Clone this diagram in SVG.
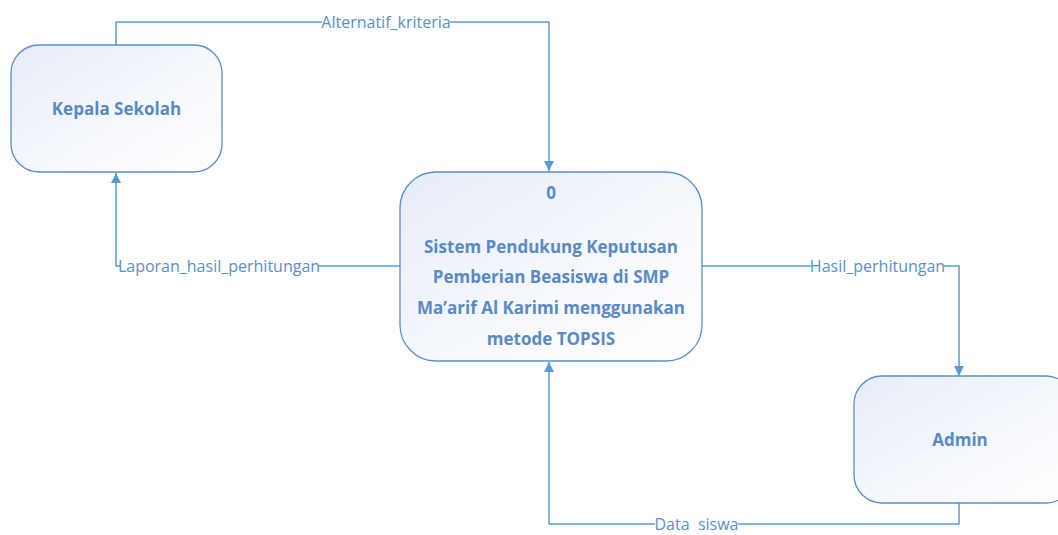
<svg xmlns="http://www.w3.org/2000/svg" width="1058" height="535" viewBox="0 0 1058 535">
<defs>
<linearGradient id="g" x1="0" y1="0" x2="1" y2="1">
<stop offset="0" stop-color="#e6ecf7"/>
<stop offset="0.6" stop-color="#f7f9fd"/>
<stop offset="1" stop-color="#ffffff"/>
</linearGradient>
<marker id="arr" viewBox="0 0 10 10" refX="10" refY="5" markerWidth="10" markerHeight="10" markerUnits="userSpaceOnUse" orient="auto">
<path d="M0,0 L10,5 L0,10 z" fill="#5b9bd5"/>
</marker>
<style>
.box{fill:url(#g);stroke:#5b8fc9;stroke-width:1.3}
.t{font-family:"Open Sans","Liberation Sans",sans-serif;font-weight:bold;fill:#5a8ac6;text-anchor:middle;font-size:17px}
.ln{fill:none;stroke:#5b9bd5;stroke-width:1.5}
.lb{font-family:"Open Sans","Liberation Sans",sans-serif;font-size:16px;fill:#5b8fc9;text-anchor:middle}
.bg{fill:#ffffff}
</style>
</defs>
<rect width="1058" height="535" fill="#ffffff"/>
<g id="connectors">
<path class="ln" d="M116,45 V22 H549 V171" marker-end="url(#arr)"/>
<path class="ln" d="M400,266 H116 V173" marker-end="url(#arr)"/>
<path class="ln" d="M702,266 H959 V376" marker-end="url(#arr)"/>
<path class="ln" d="M959,503 V524 H549 V362" marker-end="url(#arr)"/>
<rect class="bg" x="322" y="12" width="128" height="20"/>
<text class="lb" x="386" y="28">Alternatif_kriteria</text>
<rect class="bg" x="120" y="256" width="198" height="20"/>
<text class="lb" x="219" y="272">Laporan_hasil_perhitungan</text>
<rect class="bg" x="811" y="256" width="133" height="20"/>
<text class="lb" x="877.5" y="272">Hasil_perhitungan</text>
<rect class="bg" x="655" y="514" width="83" height="20"/>
<text class="lb" x="696.5" y="530" xml:space="preserve">Data  siswa</text>
</g>
<g id="kepala-sekolah">
<rect class="box" x="11" y="45" width="211" height="127" rx="28"/>
<text class="t" x="116.5" y="115">Kepala Sekolah</text>
</g>
<g id="proses-0">
<rect class="box" x="400" y="172" width="302" height="189" rx="36"/>
<text class="t" x="551" y="199">0</text>
<text class="t" x="551" y="253">Sistem Pendukung Keputusan</text>
<text class="t" x="551" y="283">Pemberian Beasiswa di SMP</text>
<text class="t" x="551" y="314">Ma’arif Al Karimi menggunakan</text>
<text class="t" x="551" y="345">metode TOPSIS</text>
</g>
<g id="admin">
<rect class="box" x="854" y="376" width="220" height="127" rx="28"/>
<text class="t" x="960" y="446">Admin</text>
</g>
</svg>
